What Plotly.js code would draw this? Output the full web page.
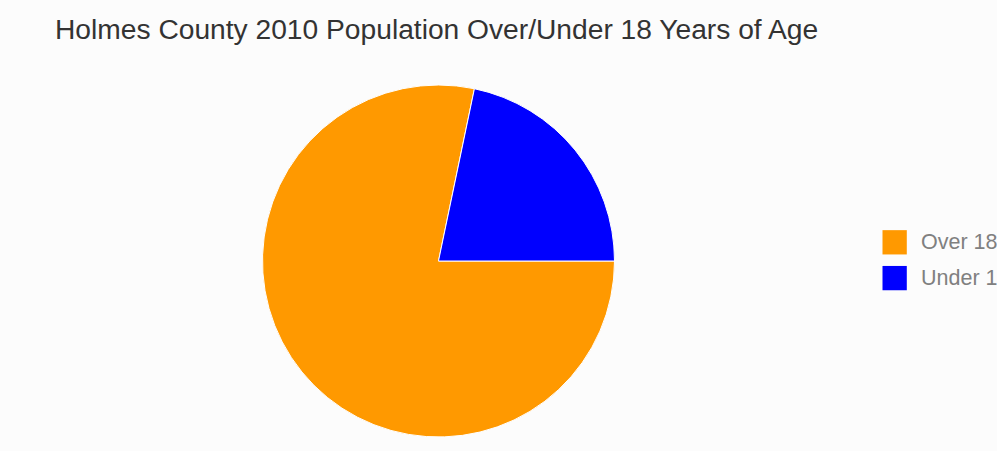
<!DOCTYPE html>
<html>
<head>
<meta charset="utf-8">
<script src="https://cdn.plot.ly/plotly-3.0.1.min.js"></script>
<style>
  html, body { margin: 0; padding: 0; background: #fcfcfc; overflow: hidden; }
  #chart { width: 997px; height: 451px; }
</style>
</head>
<body>
<div id="chart"></div>
<script>
// Data
const categories = ["Over 18", "Under 18"];
const populationValues = [15597, 4330];
const sliceColors = ["#ff9900", "#0000ff"];
const chartTitle = "Holmes County 2010 Population Over/Under 18 Years of Age";

const W = 997, H = 451;
const cx = 438.5, cy = 261, r = 176;

const trace = {
  type: "pie",
  labels: categories,
  values: populationValues,
  marker: { colors: sliceColors, line: { color: "#ffffff", width: 1 } },
  sort: false,
  direction: "clockwise",
  rotation: 90,
  textinfo: "none",
  hoverinfo: "label+value+percent",
  showlegend: false,
  domain: {
    x: [(cx - r) / W, (cx + r) / W],
    y: [1 - (cy + r) / H, 1 - (cy - r) / H]
  }
};

// Legend (Google-Charts style: big squares, generous spacing), built from the category arrays
const legendX = 882.5, legendY0 = 242.3, legendStep = 35.8, box = 24.3, textX = 918.5;
const px = (x) => x / W;
const py = (y) => 1 - y / H;
const shapes = [];
const annotations = [];
categories.forEach((cat, i) => {
  const yc = legendY0 + i * legendStep;
  shapes.push({
    type: "rect", xref: "paper", yref: "paper",
    x0: px(legendX), x1: px(legendX + box),
    y0: py(yc + box / 2), y1: py(yc - box / 2),
    fillcolor: sliceColors[i],
    line: { color: sliceColors[i], width: 0 }
  });
  annotations.push({
    xref: "paper", yref: "paper",
    x: px(textX), y: py(yc),
    xanchor: "left", yanchor: "middle",
    text: cat, showarrow: false,
    font: { family: "Liberation Sans, Arial, sans-serif", size: 21.5, color: "#808080" }
  });
});

const layout = {
  width: W,
  height: H,
  margin: { l: 0, r: 0, t: 0, b: 0, pad: 0 },
  paper_bgcolor: "#fcfcfc",
  plot_bgcolor: "#fcfcfc",
  font: { family: "Liberation Sans, Arial, sans-serif", color: "#555555" },
  title: {
    text: chartTitle,
    font: { family: "Liberation Sans, Arial, sans-serif", size: 28.2, color: "#333333" },
    x: 55 / W,
    xanchor: "left",
    xref: "container",
    y: 1 - 29 / H,
    yanchor: "middle",
    yref: "container"
  },
  showlegend: false,
  shapes: shapes,
  annotations: annotations
};

Plotly.newPlot("chart", [trace], layout, { displayModeBar: false, staticPlot: true });
</script>
</body>
</html>
